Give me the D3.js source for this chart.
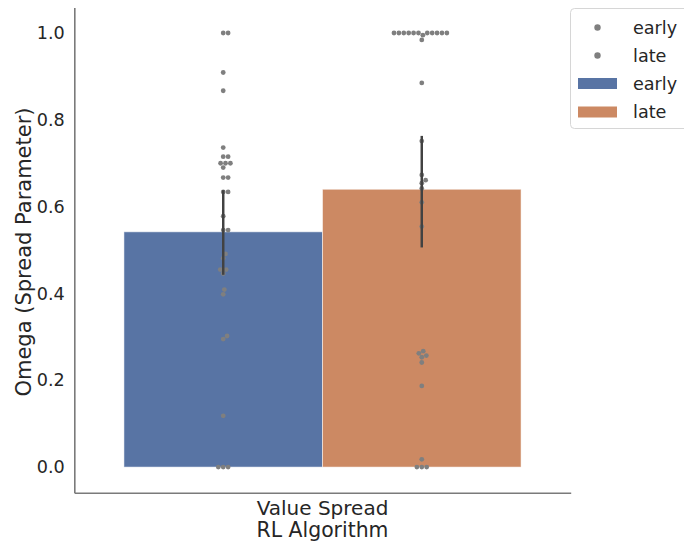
<!DOCTYPE html>
<html>
<head>
<meta charset="utf-8">
<script src="https://cdn.jsdelivr.net/npm/d3@7"></script>
<style>
  body { margin: 0; background: #fff; }
  text { font-family: "DejaVu Sans", sans-serif; fill: #262626; }
</style>
</head>
<body>
<script>
// chart data
var categories = ["Value Spread"];
var hues = ["early", "late"];
var barMeans = [0.542, 0.640];
var ciLow = [0.443, 0.506];
var ciHigh = [0.638, 0.763];
var earlyValues = [1.0, 1.0, 0.909, 0.867, 0.736, 0.715, 0.715, 0.70, 0.70, 0.70, 0.69,
  0.667, 0.667, 0.634, 0.634, 0.578, 0.546, 0.546, 0.491, 0.481, 0.455, 0.455, 0.446,
  0.409, 0.398, 0.302, 0.295, 0.118, 0, 0, 0];
var lateValues = [1.0, 1.0, 1.0, 1.0, 1.0, 1.0, 1.0, 1.0, 1.0, 1.0, 1.0, 0.995, 0.984,
  0.885, 0.751, 0.673, 0.661, 0.654, 0.642, 0.610, 0.554,
  0.267, 0.262, 0.257, 0.253, 0.241, 0.187, 0.018, 0, 0, 0];
var yTicks = [0, 0.2, 0.4, 0.6, 0.8, 1.0];
var barColors = ["#5874a4", "#cc8963"];

var width = 684, height = 546;
var axLeft = 74.3, axRight = 570.7, axTop = 7.4, axBottom = 492.7;

var svg = d3.select("body").append("svg")
  .attr("width", width)
  .attr("height", height);

var y = d3.scaleLinear().domain([-0.059, 1.059]).range([axBottom, axTop]);
var x = d3.scaleBand().domain(categories).range([axLeft, axRight])
  .paddingInner(0).paddingOuter(0.125);
var xh = d3.scaleBand().domain(hues).range([0, x.bandwidth()]);

var bars = hues.map(function(h, i) {
  return {hue: h, cat: categories[0], mean: barMeans[i], lo: ciLow[i], hi: ciHigh[i], color: barColors[i]};
});

//BARS
svg.selectAll("rect.bar").data(bars).enter()
  .append("rect")
  .attr("class", "bar")
  .attr("x", function(d){ return x(d.cat) + xh(d.hue); })
  .attr("width", xh.bandwidth())
  .attr("y", function(d){ return y(d.mean); })
  .attr("height", function(d){ return y(0) - y(d.mean); })
  .attr("fill", function(d){ return d.color; })
  .attr("stroke", "#fff")
  .attr("stroke-opacity", 0.5)
  .attr("stroke-width", 1);

//SWARM - simple beeswarm layout in pixel space
var minDist = 4.9;
function swarm(values, cx) {
  var pts = values.map(function(v){ return {v: v, py: y(v)}; });
  pts.sort(function(a, b){ return a.v - b.v; });
  var placed = [];
  pts.forEach(function(p) {
    var cands = [0];
    placed.forEach(function(q) {
      var dy = Math.abs(q.py - p.py);
      if (dy < minDist) {
        var dx = Math.sqrt(minDist * minDist - dy * dy);
        cands.push(q.dx + dx, q.dx - dx);
      }
    });
    cands.sort(function(a, b){ return Math.abs(a) - Math.abs(b); });
    var best = 0;
    for (var k = 0; k < cands.length; k++) {
      var ok = placed.every(function(q) {
        var ddx = q.dx - cands[k], ddy = q.py - p.py;
        return ddx * ddx + ddy * ddy >= minDist * minDist - 0.01;
      });
      if (ok) { best = cands[k]; break; }
    }
    p.dx = best;
    p.px = cx + best;
    placed.push(p);
  });
  return placed;
}

var pointData = [];
[earlyValues, lateValues].forEach(function(vals, i) {
  var cx = x(categories[0]) + xh(hues[i]) + xh.bandwidth() / 2;
  pointData = pointData.concat(swarm(vals, cx));
});

svg.selectAll("circle.pt").data(pointData).enter()
  .append("circle")
  .attr("class", "pt")
  .attr("cx", function(d){ return d.px; })
  .attr("cy", function(d){ return d.py; })
  .attr("r", 2.4)
  .attr("fill", "#7f7f7f");

//ERROR BARS
svg.selectAll("line.err").data(bars).enter()
  .append("line")
  .attr("class", "err")
  .attr("x1", function(d){ return x(d.cat) + xh(d.hue) + xh.bandwidth() / 2; })
  .attr("x2", function(d){ return x(d.cat) + xh(d.hue) + xh.bandwidth() / 2; })
  .attr("y1", function(d){ return y(d.lo); })
  .attr("y2", function(d){ return y(d.hi); })
  .attr("stroke", "#424242")
  .attr("stroke-width", 2.5);

//AXES
var yAxis = svg.append("g")
  .attr("transform", "translate(" + axLeft + ",0)")
  .call(d3.axisLeft(y).tickValues(yTicks).tickFormat(d3.format(".1f")).tickSize(0).tickPadding(9.5));
var xAxis = svg.append("g")
  .attr("transform", "translate(0," + axBottom + ")")
  .call(d3.axisBottom(x).tickSize(0).tickPadding(8));

[yAxis, xAxis].forEach(function(g) {
  g.select(".domain").attr("stroke", "#7a7a7a").attr("stroke-width", 1.6);
  g.selectAll("text").attr("fill", "#262626")
    .style("font-family", "DejaVu Sans, sans-serif");
});
yAxis.selectAll("text").style("font-size", "17.6px");
xAxis.selectAll("text").style("font-size", "20px");

svg.append("text")
  .attr("x", (axLeft + axRight) / 2)
  .attr("y", 536.5)
  .attr("text-anchor", "middle")
  .style("font-size", "20.4px")
  .text("RL Algorithm");

svg.append("text")
  .attr("transform", "translate(31," + 252 + ") rotate(-90)")
  .attr("text-anchor", "middle")
  .style("font-size", "21px")
  .text("Omega (Spread Parameter)");

//LEGEND
var legend = svg.append("g");
legend.append("rect")
  .attr("x", 570.5).attr("y", 8.5)
  .attr("width", 130).attr("height", 120)
  .attr("rx", 4)
  .attr("fill", "#fff").attr("fill-opacity", 0.8)
  .attr("stroke", "#d6d6d6").attr("stroke-width", 1);

var legendItems = [
  {label: hues[0], kind: "dot"},
  {label: hues[1], kind: "dot"},
  {label: hues[0], kind: "bar", color: barColors[0]},
  {label: hues[1], kind: "bar", color: barColors[1]}
];
var rowY = [27.5, 55.5, 83.5, 112];

var li = legend.selectAll("g.item").data(legendItems).enter()
  .append("g")
  .attr("class", "item")
  .attr("transform", function(d, i){ return "translate(0," + rowY[i] + ")"; });

li.filter(function(d){ return d.kind === "dot"; })
  .append("circle")
  .attr("cx", 597.5).attr("cy", 0).attr("r", 3.2)
  .attr("fill", "#7f7f7f");
li.filter(function(d){ return d.kind === "bar"; })
  .append("rect")
  .attr("x", 578).attr("y", -5.5)
  .attr("width", 39).attr("height", 11)
  .attr("fill", function(d){ return d.color; });
li.append("text")
  .attr("x", 633).attr("y", 6)
  .style("font-size", "17.6px")
  .text(function(d){ return d.label; });
</script>
</body>
</html>
